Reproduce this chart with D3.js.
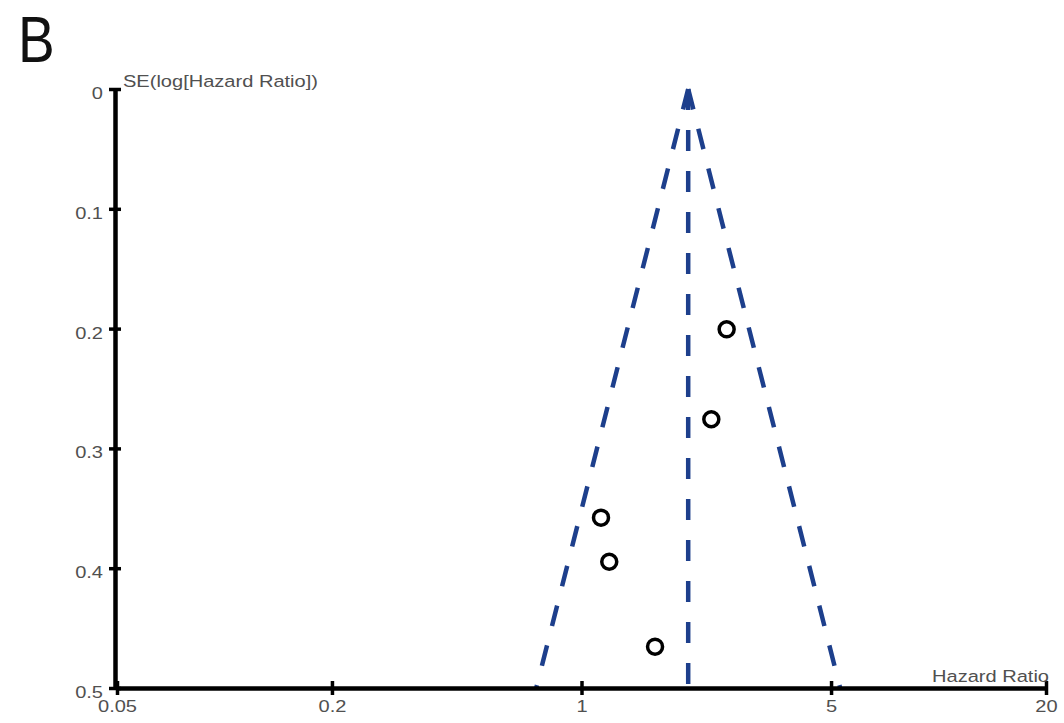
<!DOCTYPE html>
<html>
<head>
<meta charset="utf-8">
<script src="https://cdn.jsdelivr.net/npm/d3@7/dist/d3.min.js"></script>
<style>
  html, body { margin: 0; padding: 0; background: #ffffff; }
  svg { display: block; }
</style>
</head>
<body>
<svg id="chart" width="1064" height="723"></svg>
<script>
// ---- data ----
const studyHR = [2.55, 2.31, 1.134, 1.196, 1.607];
const studySE = [0.2006, 0.2757, 0.3578, 0.3946, 0.4655];
const pooledHR = 1.99;
const xTickValues = [0.05, 0.2, 1, 5, 20];
const xTickLabels = ["0.05", "0.2", "1", "5", "20"];
const yTickValues = [0, 0.1, 0.2, 0.3, 0.4, 0.5];
const yTickLabels = ["0", "0.1", "0.2", "0.3", "0.4", "0.5"];
const panelLabel = "B";
const yTitle = "SE(log[Hazard Ratio])";
const xTitle = "Hazard Ratio";

// ---- drawing ----
const svg = d3.select("#chart");
const FONT = "'Liberation Sans', Arial, Helvetica, sans-serif";
const TXT = "#505050";
const SX = 1.18;
const BLUE = "#1d3f8c";

const x = d3.scaleLog().domain([0.05, 20]).range([117, 1046]);
const y = d3.scaleLinear().domain([0, 0.5]).range([89, 688]);

// panel label
svg.append("text")
  .attr("transform", "translate(18,62) scale(0.86,1)")
  .attr("font-family", FONT).attr("font-size", 64).attr("fill", "#111")
  .text(panelLabel);

// funnel lines
const seMax = 0.5;
const funnel = [
  [{se: 0, hr: pooledHR}, {se: seMax, hr: pooledHR * Math.exp(-1.96 * seMax)}],
  [{se: 0, hr: pooledHR}, {se: seMax, hr: pooledHR}],
  [{se: 0, hr: pooledHR}, {se: seMax, hr: pooledHR * Math.exp(1.96 * seMax)}]
];
const line = d3.line().x(d => x(d.hr)).y(d => y(d.se));
svg.append("g").selectAll("path").data(funnel).join("path")
  .attr("d", line)
  .attr("fill", "none")
  .attr("stroke", BLUE)
  .attr("stroke-width", 4.5)
  .attr("stroke-dasharray", "21,20");

// axes
const yAxis = d3.axisLeft(y).tickValues(yTickValues)
  .tickFormat((d, i) => yTickLabels[i]).tickSizeOuter(0).tickSizeInner(6);
const gy = svg.append("g").attr("transform", `translate(${x(0.05) - 2},0)`).call(yAxis);
gy.select(".domain").attr("stroke", "#000").attr("stroke-width", 4.5);
gy.selectAll(".tick line").attr("x1", -6).attr("x2", 6).attr("stroke", "#000").attr("stroke-width", 3.5);
gy.selectAll(".tick text")
  .attr("x", null).attr("dy", null)
  .attr("transform", `translate(-12,5) scale(${SX},1)`)
  .attr("dominant-baseline", "middle")
  .attr("text-anchor", "end")
  .attr("font-family", FONT).attr("font-size", 17).attr("fill", TXT);

const xAxis = d3.axisBottom(x).tickValues(xTickValues)
  .tickFormat((d, i) => xTickLabels[i]).tickSizeOuter(0).tickSizeInner(7);
const gx = svg.append("g").attr("transform", `translate(0,${y(0.5)})`).call(xAxis);
gx.select(".domain").attr("stroke", "#000").attr("stroke-width", 4.5);
gx.selectAll(".tick line").attr("y1", -7).attr("y2", 7).attr("stroke", "#000").attr("stroke-width", 3.5);
gx.selectAll(".tick text")
  .attr("y", null).attr("dy", null)
  .attr("transform", `translate(0,20) scale(${SX},1)`)
  .attr("dominant-baseline", "middle")
  .attr("text-anchor", "middle")
  .attr("font-family", FONT).attr("font-size", 17).attr("fill", TXT);
svg.selectAll(".tick text, .domain").raise();

// axis titles
svg.append("text")
  .attr("transform", `translate(${x(0.05) + 6},${y(0) - 2}) scale(${SX},1)`)
  .attr("font-family", FONT).attr("font-size", 17).attr("fill", TXT)
  .text(yTitle);
svg.append("text")
  .attr("transform", `translate(${x(20) + 3},${y(0.5) - 6}) scale(${SX},1)`)
  .attr("text-anchor", "end")
  .attr("font-family", FONT).attr("font-size", 17).attr("fill", TXT)
  .text(xTitle);

// study points
const pts = studyHR.map((hr, i) => ({hr, se: studySE[i]}));
svg.append("g").selectAll("circle").data(pts).join("circle")
  .attr("cx", d => x(d.hr)).attr("cy", d => y(d.se))
  .attr("r", 7.5)
  .attr("fill", "#fff")
  .attr("stroke", "#000")
  .attr("stroke-width", 3.5);
</script>
</body>
</html>
